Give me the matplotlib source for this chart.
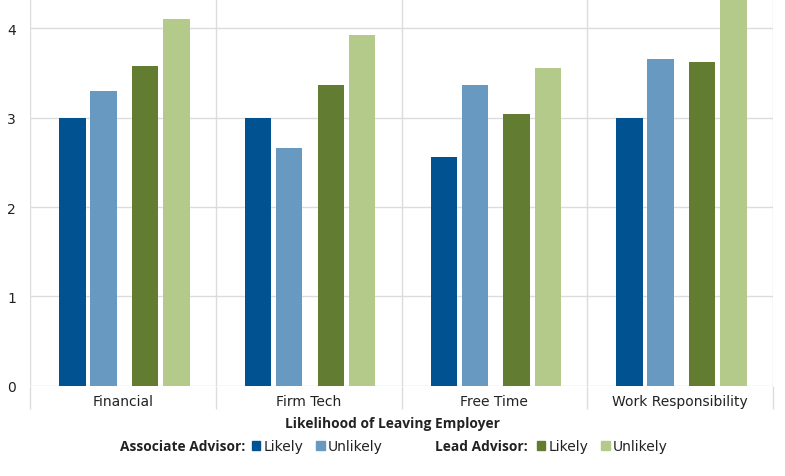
import matplotlib.pyplot as plt
from matplotlib.patches import Patch
import numpy as np

categories = ["Financial", "Firm Tech", "Free Time", "Work Responsibility"]
assoc_likely = [3.00, 3.00, 2.56, 3.00]
assoc_unlikely = [3.30, 2.66, 3.36, 3.66]
lead_likely = [3.58, 3.37, 3.04, 3.62]
lead_unlikely = [4.10, 3.93, 3.56, 4.40]

series = [assoc_likely, assoc_unlikely, lead_likely, lead_unlikely]
colors = ["#005291", "#6899c1", "#627c32", "#b4ca8b"]
offsets = [-0.272, -0.105, 0.119, 0.288]

plt.rcParams["font.family"] = "DejaVu Sans"
grid_c = "#dcdcdc"
text_c = "#222222"
bold_font = dict(family="Open Sans", fontweight="bold", fontsize=9.9, color=text_c)

fig = plt.figure(figsize=(7.85, 4.77), dpi=100)
ax = fig.add_axes([30 / 785, (477 - 386.7) / 477, 743 / 785, 386.7 / 477])

x = np.arange(len(categories))
for vals, col, off in zip(series, colors, offsets):
    ax.bar(x + off, vals, width=0.142, color=col, zorder=3)

ax.set_xlim(-0.5, 3.5)
ax.set_ylim(0, 4.328)
ax.set_yticks([0, 1, 2, 3, 4])

# category boundaries as major ticks, names on minor ticks
ax.set_xticks(np.arange(-0.5, 4.0, 1.0))
ax.set_xticklabels([])
ax.set_xticks(x, minor=True)
ax.set_xticklabels(categories, minor=True)
ax.tick_params(axis="x", which="major", length=16.5, width=1, color=grid_c, direction="out")
ax.tick_params(axis="x", which="minor", length=0, pad=6, labelsize=10, labelcolor=text_c)
ax.tick_params(axis="y", length=0, pad=10, labelsize=10, labelcolor=text_c)

ax.grid(True, which="major", color=grid_c, linewidth=1, zorder=0)
for s in ax.spines.values():
    s.set_visible(False)

fig.text(0.5, (477 - 424) / 477, "Likelihood of Leaving Employer", ha="center", va="center", **bold_font)

# legend: bold group names as text, colour keys as two small legends
leg_y = (477 - 447) / 477
fig.text(120 / 785, leg_y, "Associate Advisor:", ha="left", va="center", **bold_font)
fig.text(435 / 785, leg_y, "Lead Advisor:", ha="left", va="center", **bold_font)

leg_kw = dict(ncol=2, loc="center left", frameon=False, fontsize=10, handlelength=0.6,
              handleheight=0.6, handletextpad=0.25, columnspacing=0.9, borderpad=0,
              borderaxespad=0)
for start, cols in [(252, colors[:2]), (537, colors[2:])]:
    leg = fig.legend([Patch(color=c) for c in cols], ["Likely", "Unlikely"],
                     bbox_to_anchor=(start / 785, leg_y), **leg_kw)
    for t in leg.get_texts():
        t.set_color(text_c)

fig.savefig("out.png", dpi=100)
